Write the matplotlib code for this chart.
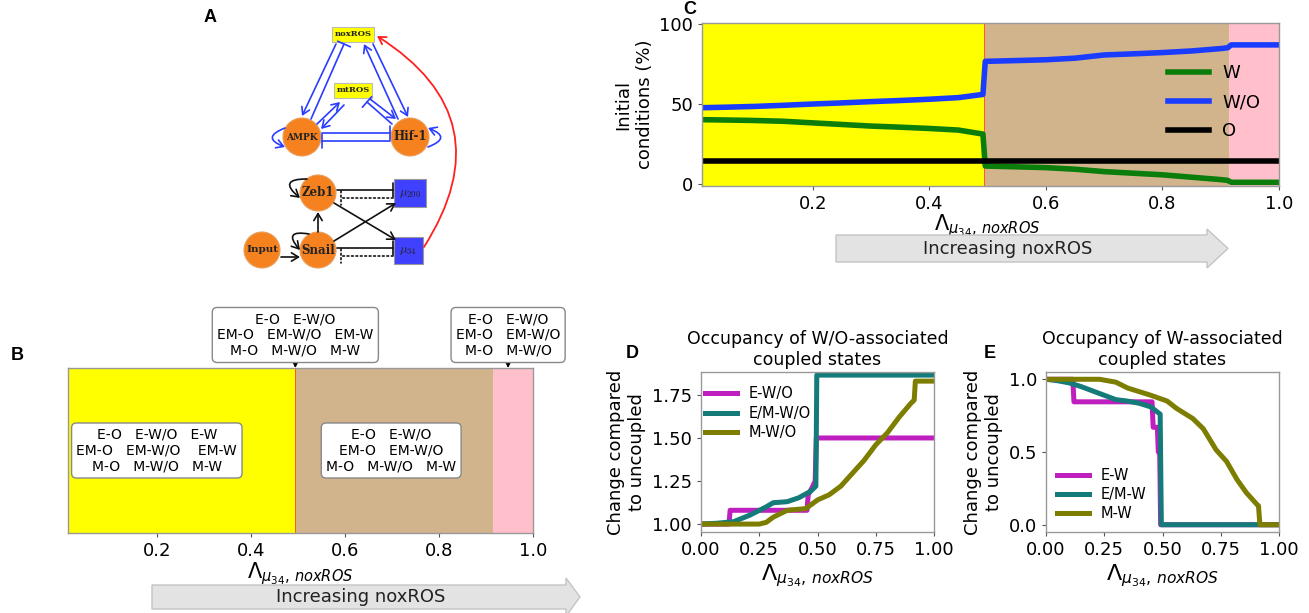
import matplotlib
matplotlib.use("Agg")
import matplotlib.pyplot as plt
from matplotlib.patches import Circle, Rectangle, FancyArrowPatch, Polygon, ArrowStyle

plt.rcParams['font.family'] = ['DejaVu Sans']
plt.rcParams['mathtext.fontset'] = 'dejavusans'

# ---------------- data ----------------
regime_edges = [0.01, 0.494, 0.915, 1.0]
regime_colors = ['#ffff00', '#d2b48c', '#ffc0cb']
lam_ticks = [0.2, 0.4, 0.6, 0.8, 1.0]

# Panel C (initial conditions, %)
c_lam = [0.01, 0.05, 0.10, 0.15, 0.20, 0.25, 0.30, 0.35, 0.40, 0.45, 0.492, 0.496,
         0.55, 0.60, 0.65, 0.70, 0.75, 0.80, 0.85, 0.90, 0.912, 0.918, 0.95, 1.00]
c_W = [40.0, 39.8, 39.5, 39.0, 38.0, 37.0, 36.0, 35.3, 34.5, 33.5, 31.0, 11.0,
       10.5, 10.0, 9.0, 7.5, 6.5, 5.5, 4.0, 2.5, 2.0, 0.8, 0.8, 0.8]
c_WO = [47.5, 47.8, 48.3, 49.0, 49.8, 50.5, 51.3, 52.0, 52.8, 53.8, 55.8, 76.5,
        77.0, 77.5, 78.5, 80.5, 81.2, 82.0, 83.0, 84.5, 85.0, 86.8, 86.8, 86.8]
c_O_lam = [0.01, 1.0]
c_O = [14.0, 14.0]

# Panel D (W/O-associated)
d_EWO_x = [0.0, 0.12, 0.125, 0.455, 0.46, 0.48, 0.49, 0.495, 1.0]
d_EWO_y = [1.0, 1.0, 1.08, 1.08, 1.17, 1.22, 1.25, 1.50, 1.50]
d_EMWO_x = [0.0, 0.07, 0.14, 0.21, 0.28, 0.31, 0.37, 0.42, 0.47, 0.493, 0.497, 1.0]
d_EMWO_y = [1.0, 1.005, 1.014, 1.052, 1.10, 1.124, 1.13, 1.153, 1.19, 1.22, 1.865, 1.865]
d_MWO_x = [0.0, 0.25, 0.28, 0.31, 0.34, 0.37, 0.45, 0.50, 0.55, 0.60, 0.64, 0.70,
           0.75, 0.80, 0.85, 0.90, 0.915, 0.92, 1.0]
d_MWO_y = [1.0, 1.0, 1.01, 1.04, 1.06, 1.08, 1.09, 1.14, 1.17, 1.22, 1.28, 1.37,
           1.46, 1.53, 1.62, 1.70, 1.72, 1.83, 1.83]

# Panel E (W-associated)
e_EW_x = [0.0, 0.115, 0.12, 0.455, 0.46, 0.478, 0.482, 0.488, 0.492, 1.0]
e_EW_y = [1.0, 1.0, 0.845, 0.845, 0.67, 0.67, 0.50, 0.50, 0.0, 0.0]
e_EMW_x = [0.0, 0.05, 0.10, 0.15, 0.20, 0.25, 0.30, 0.35, 0.40, 0.45, 0.49, 0.495, 1.0]
e_EMW_y = [1.0, 0.99, 0.975, 0.95, 0.92, 0.89, 0.86, 0.85, 0.835, 0.81, 0.76, 0.0, 0.0]
e_MW_x = [0.0, 0.12, 0.23, 0.30, 0.35, 0.40, 0.45, 0.52, 0.56, 0.63, 0.675, 0.73,
          0.775, 0.82, 0.86, 0.905, 0.912, 0.918, 1.0]
e_MW_y = [1.0, 1.0, 1.0, 0.98, 0.94, 0.915, 0.89, 0.85, 0.80, 0.73, 0.66, 0.515,
          0.435, 0.31, 0.22, 0.14, 0.13, 0.0, 0.0]

b_boxes = [
    "E-O   E-W/O   E-W\nEM-O   EM-W/O    EM-W\nM-O   M-W/O   M-W",
    "E-O   E-W/O\nEM-O   EM-W/O\nM-O   M-W/O   M-W",
]
b_top_boxes = [
    "E-O   E-W/O\nEM-O   EM-W/O   EM-W\nM-O   M-W/O   M-W",
    "E-O   E-W/O\nEM-O   EM-W/O\nM-O   M-W/O",
]

LAMBDA = r'$\Lambda_{\mu_{34},\,noxROS}$'

# ---------------- figure ----------------
W, H = 1309, 613
fig = plt.figure(figsize=(W / 100, H / 100), dpi=100)


def ax_px(x0, y0, x1, y1):
    return fig.add_axes([x0 / W, 1 - y1 / H, (x1 - x0) / W, (y1 - y0) / H])


def style(ax):
    for s in ax.spines.values():
        s.set_color('#999999')
        s.set_linewidth(1.0)
    ax.tick_params(colors='#555555', labelcolor='black', length=3, labelsize=13)


# ---- Panel B ----
axB = ax_px(68, 368, 533, 533)
for i, c in enumerate(regime_colors):
    axB.axvspan(regime_edges[i], regime_edges[i + 1], color=c, lw=0)
axB.axvline(regime_edges[1], color='#ff5a1f', lw=0.7)
axB.set_xlim(regime_edges[0], regime_edges[-1])
axB.set_ylim(0, 1)
axB.set_yticks([])
axB.set_xticks(lam_ticks)
axB.set_xticklabels([f"{t:.1f}" for t in lam_ticks])
style(axB)
axB.set_xlabel(LAMBDA, fontsize=15)
axB.xaxis.set_label_coords(0.5, -0.165)
bb = dict(boxstyle='round,pad=0.35', fc='white', ec='#888888', lw=1)
axB.text(0.191, 0.5, b_boxes[0], transform=axB.transAxes, ha='center', va='center',
         fontsize=10, multialignment='center', bbox=bb, linespacing=1.15)
axB.text(0.695, 0.5, b_boxes[1], transform=axB.transAxes, ha='center', va='center',
         fontsize=10, multialignment='center', bbox=bb, linespacing=1.15)
for xv, txt in zip([regime_edges[1], 0.947], b_top_boxes):
    axB.annotate(txt, xy=(xv, 1.0), xycoords=('data', 'axes fraction'),
                 xytext=(xv, 1.2), textcoords=('data', 'axes fraction'),
                 ha='center', va='center', fontsize=10, multialignment='center',
                 bbox=bb, linespacing=1.15, annotation_clip=False,
                 arrowprops=dict(arrowstyle='-|>', color='black', lw=1, mutation_scale=9,
                                 shrinkA=0, shrinkB=0))

# ---- Panel C ----
axC = ax_px(702, 23, 1279, 186)
for i, c in enumerate(regime_colors):
    axC.axvspan(regime_edges[i], regime_edges[i + 1], color=c, lw=0)
axC.axvline(regime_edges[1], color='#ff5a1f', lw=0.7)
axC.plot(c_lam, c_W, color='#0a7d0a', lw=4, label='W')
axC.plot(c_lam, c_WO, color='#1a3cff', lw=4, label='W/O')
axC.plot(c_O_lam, c_O, color='black', lw=4, label='O')
axC.set_xlim(regime_edges[0], regime_edges[-1])
axC.set_ylim(-1.5, 100.5)
axC.set_yticks([0, 50, 100])
axC.set_xticks(lam_ticks)
axC.set_xticklabels([f"{t:.1f}" for t in lam_ticks])
style(axC)
axC.set_xlabel(LAMBDA, fontsize=15)
axC.xaxis.set_label_coords(0.495, -0.16)
axC.set_ylabel("Initial\nconditions (%)", fontsize=13, labelpad=4)
axC.legend(loc='upper left', bbox_to_anchor=(0.795, 0.79), borderaxespad=0,
           frameon=False, fontsize=13, handlelength=2.3, handletextpad=0.7,
           labelspacing=0.6)

# ---- Panel D ----
axD = ax_px(701, 372, 934, 532)
axD.plot(d_EWO_x, d_EWO_y, color='#bf1fbf', lw=3.6, label='E-W/O')
axD.plot(d_EMWO_x, d_EMWO_y, color='#147a7a', lw=3.6, label='E/M-W/O')
axD.plot(d_MWO_x, d_MWO_y, color='#7d7d00', lw=3.6, label='M-W/O')
axD.set_xlim(0, 1)
axD.set_ylim(0.954, 1.883)
axD.set_xticks([0, 0.25, 0.5, 0.75, 1.0])
axD.set_xticklabels(["0.00", "0.25", "0.50", "0.75", "1.00"])
axD.set_yticks([1.0, 1.25, 1.5, 1.75])
axD.set_yticklabels(["1.00", "1.25", "1.50", "1.75"])
style(axD)
axD.set_xlabel(LAMBDA, fontsize=16, labelpad=2)
axD.set_ylabel("Change compared\nto uncoupled", fontsize=13, labelpad=4)
axD.set_title("Occupancy of W/O-associated\ncoupled states", fontsize=12.5, pad=5)
axD.legend(loc='upper left', bbox_to_anchor=(-0.008, 0.946), borderaxespad=0,
           frameon=False, fontsize=10.5, handlelength=2.2, labelspacing=0.3)

# ---- Panel E ----
axE = ax_px(1046, 372, 1279, 532)
axE.plot(e_EW_x, e_EW_y, color='#bf1fbf', lw=3.6, label='E-W')
axE.plot(e_EMW_x, e_EMW_y, color='#147a7a', lw=3.6, label='E/M-W')
axE.plot(e_MW_x, e_MW_y, color='#7d7d00', lw=3.6, label='M-W')
axE.set_xlim(0, 1)
axE.set_ylim(-0.05, 1.05)
axE.set_xticks([0, 0.25, 0.5, 0.75, 1.0])
axE.set_xticklabels(["0.00", "0.25", "0.50", "0.75", "1.00"])
axE.set_yticks([0.0, 0.5, 1.0])
style(axE)
axE.set_xlabel(LAMBDA, fontsize=16, labelpad=2)
axE.set_ylabel("Change compared\nto uncoupled", fontsize=13, labelpad=4)
axE.set_title("Occupancy of W-associated\ncoupled states", fontsize=12.5, pad=5)
axE.legend(loc='lower left', bbox_to_anchor=(0.022, 0.03), borderaxespad=0,
           frameon=False, fontsize=10.5, handlelength=2.2, labelspacing=0.3)

# ---- overlay: panel A diagram, arrows, panel letters ----
ov = fig.add_axes([0, 0, 1, 1])
ov.set_xlim(0, W)
ov.set_ylim(H, 0)
ov.axis('off')

for lab, (x, y) in zip("ABCDE", [(210, 18), (17, 355), (690, 9), (632, 353), (990, 353)]):
    ov.text(x, y, lab, fontsize=13, fontweight='bold', family='Liberation Sans',
            ha='center', va='center')

# gray "Increasing noxROS" arrows
arrC = [(836, 235), (1207, 235), (1207, 229), (1228, 248.5), (1207, 268), (1207, 262), (836, 262)]
ov.add_patch(Polygon(arrC, closed=True, fc='#e3e3e3', ec='#c4c4c4', lw=1))
ov.text(1008, 249, "Increasing noxROS", fontsize=13, ha='center', va='center', color='#222222')
arrB = [(152, 585), (566, 585), (566, 578), (580, 597), (566, 616), (566, 609), (152, 609)]
ov.add_patch(Polygon(arrB, closed=True, fc='#e3e3e3', ec='#c4c4c4', lw=1))
ov.text(361, 597, "Increasing noxROS", fontsize=13, ha='center', va='center', color='#222222')

# network nodes
orange = '#f5821f'
serif = dict(family='DejaVu Serif', fontweight='bold', ha='center', va='center', color='#222222')
ov.add_patch(Rectangle((332, 27), 42, 15, fc='#ffff00', ec='#bbbbbb', lw=0.8))
ov.text(353, 34.5, "noxROS", fontsize=6, **serif)
ov.add_patch(Rectangle((334, 83), 38, 15, fc='#ffff00', ec='#bbbbbb', lw=0.8))
ov.text(353, 90.5, "mtROS", fontsize=6, **serif)
for (cx, cy, r, name, fs) in [(302, 137, 19, "AMPK", 6.5), (410, 137, 19, "Hif-1", 8.5),
                               (318, 193, 18, "Zeb1", 8.5), (318, 250, 18, "Snail", 8.5),
                               (262, 250, 18, "Input", 7.5)]:
    ov.add_patch(Circle((cx, cy), r, fc=orange, ec='#e8a060', lw=0.8))
    ov.text(cx, cy, name, fontsize=fs, **serif)
ov.add_patch(Rectangle((394, 179), 32, 28, fc='#4040ff', ec='#999999', lw=0.8))
ov.text(410, 193, r'$\mu_{200}$', fontsize=9, ha='center', va='center', color='#222222',
        math_fontfamily='cm')
ov.add_patch(Rectangle((394, 237), 29, 27, fc='#4040ff', ec='#999999', lw=0.8))
ov.text(408.5, 250.5, r'$\mu_{34}$', fontsize=9, ha='center', va='center', color='#222222',
        math_fontfamily='cm')

act = ArrowStyle('->', head_length=0.5, head_width=0.3)
inh = ArrowStyle('-[', widthB=0.5, lengthB=0.0)


def edge(p, q, style, color, ls='-', rad=0.0, lw=1.2, ms=10):
    ov.add_patch(FancyArrowPatch(p, q, arrowstyle=style, color=color, lw=lw, ls=ls,
                                 mutation_scale=ms, shrinkA=0, shrinkB=0,
                                 connectionstyle=f'arc3,rad={rad}'))


blue = '#2a3cff'
edge((336, 44), (302, 116), act, blue)
edge((311, 119), (344, 44), inh, blue)
edge((398, 119), (364, 44), act, blue)
edge((373, 44), (408, 117), act, blue)
edge((317, 124), (340, 102), act, blue)
edge((344, 105), (321, 129), act, blue)
edge((392, 124), (367, 102), inh, blue)
edge((370, 99), (396, 119), act, blue)
edge((322, 133), (390, 133), inh, blue)
edge((390, 141), (322, 141), inh, blue)
edge((285, 128), (285, 147), act, blue, rad=1.3)
edge((428, 147), (428, 128), act, blue, rad=1.3)

k = '#111111'
edge((307, 179), (300, 198), act, k, rad=1.4)
edge((309, 234), (300, 250), act, k, rad=1.4)
edge((318, 232), (318, 212), act, k)
edge((281, 257), (300, 257), act, k)
edge((337, 190), (393, 190), inh, k)
edge((393, 198), (341, 198), inh, k, ls=':')
edge((337, 248), (393, 248), inh, k)
edge((393, 256), (341, 256), inh, k, ls=':')
edge((334, 203), (396, 240), act, k)
edge((334, 241), (396, 203), act, k)

edge((424, 247), (377, 36), act, '#ff2020', rad=0.5, lw=1.3)

fig.savefig("out.png", dpi=100)
